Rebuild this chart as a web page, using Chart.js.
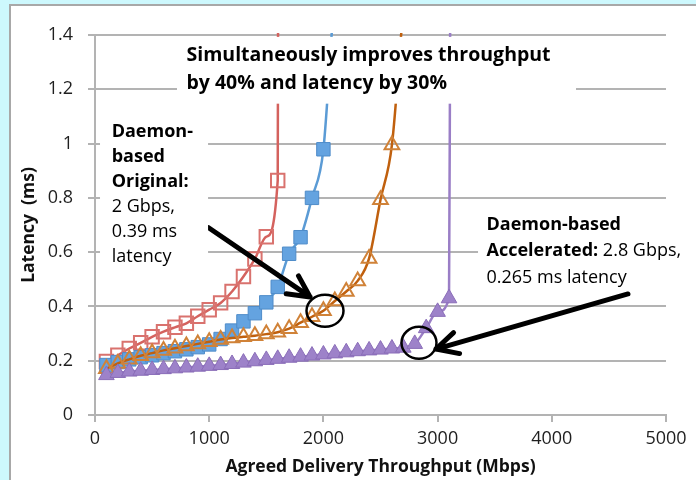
<!DOCTYPE html>
<html lang="en">
<head>
<meta charset="utf-8">
<title>Latency vs agreed delivery throughput</title>
<style>
  html, body { margin: 0; padding: 0; width: 696px; height: 480px; overflow: hidden; background: #cdf8fd; }
  .frame { position: absolute; left: 9px; top: 4px; width: 700px; height: 490px; background: #fff;
           border-top: 2px solid #a8a8a8; border-left: 2px solid #a8a8a8; }
  .holder { position: absolute; left: 0; top: 0; width: 696px; height: 480px; }
</style>
</head>
<body>
<div class="frame"></div>
<div class="holder"><canvas id="chart"></canvas></div>
<script src="https://cdn.jsdelivr.net/npm/chart.js@4.4.1/dist/chart.umd.min.js"></script>
<script>
// offered load, Mbps (every series starts at 100 and steps by 100)
const throughputMbps = [100, 200, 300, 400, 500, 600, 700, 800, 900, 1000,
  1100, 1200, 1300, 1400, 1500, 1600, 1700, 1800, 1900, 2000,
  2100, 2200, 2300, 2400, 2500, 2600, 2700, 2800, 2900, 3000, 3100];

// latency in ms
const originalLatency = [0.197, 0.22, 0.245, 0.266, 0.288, 0.307, 0.323, 0.338, 0.364, 0.388,
  0.413, 0.455, 0.51, 0.575, 0.657, 0.864];
const acceleratedLatency = [0.184, 0.195, 0.205, 0.213, 0.22, 0.228, 0.235, 0.242, 0.25, 0.26,
  0.28, 0.311, 0.345, 0.375, 0.415, 0.472, 0.594, 0.655, 0.80, 0.979];
const daemonOriginalLatency = [0.17, 0.19, 0.205, 0.218, 0.228, 0.238, 0.246, 0.254, 0.262, 0.27,
  0.278, 0.284, 0.288, 0.292, 0.298, 0.305, 0.318, 0.34, 0.362, 0.384,
  0.42, 0.455, 0.494, 0.577, 0.793, 0.995];
const daemonAcceleratedLatency = [0.147, 0.155, 0.16, 0.163, 0.166, 0.169, 0.172, 0.175, 0.178, 0.181,
  0.184, 0.188, 0.193, 0.198, 0.203, 0.207, 0.211, 0.215, 0.219, 0.223,
  0.227, 0.231, 0.235, 0.238, 0.241, 0.245, 0.248, 0.262, 0.32, 0.38, 0.43];

// where each curve blows up and leaves the top of the plot
const saturationMbps = [1603, 2080, 2690, 3110];
const saturationLatency = 1.45;

const seriesNames = ['Original', 'Accelerated', 'Daemon-based Original', 'Daemon-based Accelerated'];
const xTicks = [0, 1000, 2000, 3000, 4000, 5000];
const yMax = 1.4;

const font = "'Open Sans', sans-serif";
const gridColor = '#b3b3b3';

function series(latency, i) {
  const pts = latency.map((v, k) => ({ x: throughputMbps[k], y: v }));
  pts.push({ x: saturationMbps[i], y: saturationLatency });
  return pts;
}

const hideTail = r => (ctx) => (ctx.raw && ctx.raw.y > yMax ? 0 : r);
const clip = { left: 12, top: 2, right: 12, bottom: 12 };

const datasets = [
  {
    label: seriesNames[0], data: series(originalLatency, 0), order: 4,
    borderColor: '#d4625e', borderWidth: 2.5,
    pointStyle: 'rect', pointRadius: hideTail(9.5), pointBorderWidth: 2,
    pointBorderColor: '#d9726e', pointBackgroundColor: 'rgba(255,255,255,0)'
  },
  {
    label: seriesNames[1], data: series(acceleratedLatency, 1), order: 3,
    borderColor: '#5b9bd5', borderWidth: 2.5,
    pointStyle: 'rect', pointRadius: hideTail(9.5), pointBorderWidth: 1,
    pointBorderColor: '#4f8cc9', pointBackgroundColor: '#64a3e0'
  },
  {
    label: seriesNames[2], data: series(daemonOriginalLatency, 2), order: 2,
    borderColor: '#c0600e', borderWidth: 2.5,
    pointStyle: 'triangle', pointRadius: hideTail(8.5), pointBorderWidth: 2,
    pointBorderColor: '#d08238', pointBackgroundColor: 'rgba(255,255,255,0)'
  },
  {
    label: seriesNames[3], data: series(daemonAcceleratedLatency, 3), order: 1,
    borderColor: '#9a7ec6', borderWidth: 2.5,
    pointStyle: 'triangle', pointRadius: hideTail(9), pointBorderWidth: 1,
    pointBorderColor: '#8a6db8', pointBackgroundColor: '#9d82c9'
  }
].map(d => Object.assign(d, { cubicInterpolationMode: 'monotone', clip }));

// call-outs, placed in data units
const notes = [
  { box: [718, 4212, 1.393, 1.147], x: 801, y: 1.325, gap: 28.2, size: 19.5,
    lines: [[['Simultaneously improves throughput', true]], [['by 40% and latency by 30%', true]]] },
  { box: [44, 990, 1.124, 0.534], x: 146, y: 1.044, gap: 25.1, size: 18,
    lines: [[['Daemon-', true]], [['based', true]], [['Original:', true]],
            [['2 Gbps,', false]], [['0.39 ms', false]], [['latency', false]]] },
  { box: [3354, 5400, 0.755, 0.46], x: 3428, y: 0.702, gap: 26.5, size: 18,
    lines: [[['Daemon-based', true]], [['Accelerated:', true], [' 2.8 Gbps,', false]],
            [['0.265 ms latency', false]]] }
];
const arrows = [
  { from: [995, 0.690], to: [1883, 0.435] },
  { from: [4667, 0.446], to: [2986, 0.243] }
];
const rings = [
  { at: [2014, 0.384], rx: 18.5, ry: 16 },
  { at: [2837, 0.266], rx: 17.5, ry: 16 }
];

const callouts = {
  id: 'callouts',
  afterDatasetsDraw(chart) {
    const { ctx, scales: { x, y } } = chart;
    const px = v => x.getPixelForValue(v);
    const py = v => y.getPixelForValue(v);
    ctx.save();
    ctx.strokeStyle = '#000';
    ctx.lineCap = 'round';
    ctx.lineJoin = 'round';

    // arrows first, boxes cover their tails
    ctx.lineWidth = 5;
    arrows.forEach(a => {
      const x0 = px(a.from[0]), y0 = py(a.from[1]);
      const x1 = px(a.to[0]), y1 = py(a.to[1]);
      const back = Math.atan2(y0 - y1, x0 - x1);
      ctx.beginPath();
      ctx.moveTo(x0, y0);
      ctx.lineTo(x1, y1);
      [-0.47, 0.47].forEach(d => {
        ctx.moveTo(x1, y1);
        ctx.lineTo(x1 + 24 * Math.cos(back + d), y1 + 24 * Math.sin(back + d));
      });
      ctx.stroke();
    });

    notes.forEach(n => {
      const [bx0, bx1, by0, by1] = n.box;
      ctx.fillStyle = '#fff';
      ctx.fillRect(px(bx0), py(by0), px(bx1) - px(bx0), py(by1) - py(by0));
      ctx.fillStyle = '#000';
      ctx.textBaseline = 'middle';
      ctx.textAlign = 'left';
      n.lines.forEach((parts, i) => {
        let cx = px(n.x);
        const cy = py(n.y) + i * n.gap;
        parts.forEach(([t, bold]) => {
          ctx.font = (bold ? 'bold ' : '') + n.size + 'px ' + font;
          ctx.fillText(t, cx, cy);
          cx += ctx.measureText(t).width;
        });
      });
    });

    ctx.lineWidth = 2.5;
    rings.forEach(r => {
      ctx.beginPath();
      ctx.ellipse(px(r.at[0]), py(r.at[1]), r.rx, r.ry, 0, 0, Math.PI * 2);
      ctx.stroke();
    });
    ctx.restore();
  }
};

new Chart(document.getElementById('chart'), {
  type: 'line',
  data: { datasets },
  plugins: [callouts],
  options: {
    responsive: true,
    maintainAspectRatio: false,
    animation: false,
    layout: { padding: { left: 0, top: 35, right: 30, bottom: 0 } },
    plugins: { legend: { display: false }, tooltip: { enabled: false } },
    scales: {
      x: {
        type: 'linear', min: 0, max: 5000,
        afterBuildTicks: s => { s.ticks = xTicks.map(v => ({ value: v })); },
        afterFit: s => { s.height = 65; },
        ticks: { color: '#1f1f1f', font: { family: font, size: 18 }, padding: 6,
                 callback: v => String(v), maxRotation: 0 },
        grid: { drawOnChartArea: false, drawTicks: true, tickLength: 7, color: gridColor, lineWidth: 2 },
        border: { display: true, color: gridColor, width: 2 },
        title: { display: true, text: 'Agreed Delivery Throughput (Mbps)', color: '#111',
                 font: { family: font, size: 17.5, weight: 'bold' }, padding: { top: 0, bottom: 2 } }
      },
      y: {
        min: 0, max: yMax,
        afterFit: s => { s.width = 95; },
        ticks: { stepSize: 0.2, color: '#1f1f1f', font: { family: font, size: 18 }, padding: 15,
                 callback: v => String(Number(v.toFixed(1))) },
        grid: { color: gridColor, lineWidth: 2, tickLength: 7 },
        border: { display: true, color: gridColor, width: 2 },
        title: { display: true, text: 'Latency  (ms)', color: '#111',
                 font: { family: font, size: 17.5, weight: 'bold' }, padding: { top: 19, bottom: 0 } }
      }
    }
  }
});
</script>
</body>
</html>
